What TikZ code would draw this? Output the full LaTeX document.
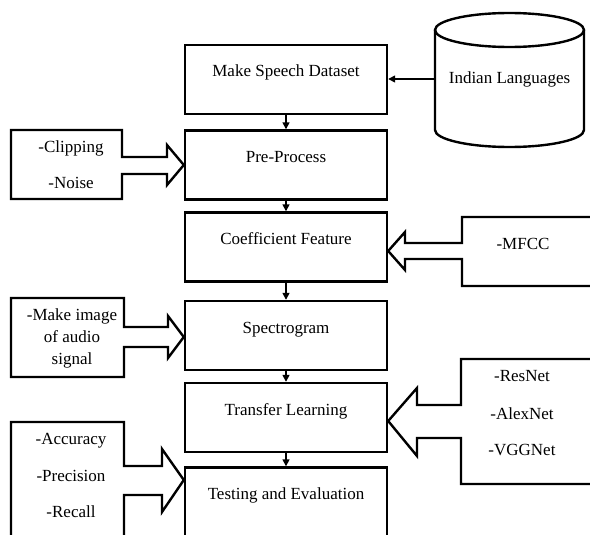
\documentclass[tikz,border=0pt]{standalone}
\usepackage{fontspec}
\setmainfont{Liberation Serif}
\usetikzlibrary{arrows.meta}

\tikzset{
  stagebox/.style={draw, line width=2.4pt, minimum width=202pt, inner ysep=3pt, text height=29pt, text depth=34pt},
  flow/.style={line width=1.5pt, -{Triangle[length=7pt,width=7pt]}},
  callout/.style={draw, line width=2.4pt, line join=miter},
  item/.style={anchor=base, inner sep=0pt}
}

\begin{document}
\begin{tikzpicture}[x=1pt,y=1pt,every node/.style={font=\fontsize{17pt}{22.3pt}\selectfont}]
\useasboundingbox (0,0) rectangle (590,-535);

% main stages
\node[stagebox] (make)  at (286,-79.5) {Make Speech Dataset};
\node[stagebox] (pre)   at (286,-165)  {Pre-Process};
\node[stagebox] (coef)  at (286,-247)  {Coefficient Feature};
\node[stagebox] (spec)  at (286,-335.5) {Spectrogram};
\node[stagebox] (trans) at (286,-417.5) {Transfer Learning};
\node[stagebox] (test)  at (286,-502)  {Testing and Evaluation};

\foreach \a/\b in {make/pre, pre/coef, coef/spec, spec/trans, trans/test}
  \draw[flow] (\a) -- (\b);

% data source
\draw[line width=2.4pt] (435,-30) -- (435,-130) arc[start angle=180,end angle=360,x radius=74.5,y radius=17] -- (584,-30);
\draw[line width=2.4pt] (509.5,-30) ellipse [x radius=74.5,y radius=17];
\node[minimum width=149pt, inner sep=0pt] (lang) at (509.5,-79) {Indian Languages};
\draw[flow] (lang.west) -- (lang.west -| make.east);

% side inputs
\draw[callout] (11,-130) -- (122,-130) -- (122,-157) -- (167,-157) -- (167,-145) -- (pre.west)
  -- (167,-185) -- (167,-174) -- (122,-174) -- (122,-199) -- (11,-199) -- cycle;
\node[item] (clip)  at (71,-153) {-Clipping};
\node[item] (noise) at (71,-189) {-Noise};

\draw[callout] (600,-217) -- (462,-217) -- (462,-243) -- (405,-243) -- (405,-232) -- ([yshift=-4pt]coef.east)
  -- (405,-270) -- (405,-259) -- (462,-259) -- (462,-286) -- (600,-286);
\node[item] (mfcc) at (523,-249.3) {-MFCC};

\draw[callout] (11,-298) -- (124,-298) -- (124,-327) -- (168,-327) -- (168,-316) -- ([yshift=-1.5pt]spec.west)
  -- (168,-358) -- (168,-347) -- (124,-347) -- (124,-377) -- (11,-377) -- cycle;
\node[align=center, inner sep=0pt] (image) at (72,-338.3) {-Make image\\of audio\\signal};

\draw[callout] (600,-359) -- (461,-359) -- (461,-405) -- (417,-405) -- (417,-388) -- ([yshift=-3.5pt]trans.east)
  -- (417,-456) -- (417,-438) -- (461,-438) -- (461,-484) -- (600,-484);
\node[item] (resnet) at (522,-381.7) {-ResNet};
\node[item] (alex)   at (522,-419)   {-AlexNet};
\node[item] (vgg)    at (522,-455.7) {-VGGNet};

\draw[callout] (11,-545) -- (11,-422) -- (124,-422) -- (124,-466) -- (162,-466) -- (162,-449) -- ([yshift=22pt]test.west)
  -- (162,-512) -- (162,-495) -- (124,-495) -- (124,-545);
\node[item] (acc)    at (71,-444) {-Accuracy};
\node[item] (prec)   at (71,-481) {-Precision};
\node[item] (recall) at (71,-517) {-Recall};
\end{tikzpicture}
\end{document}
